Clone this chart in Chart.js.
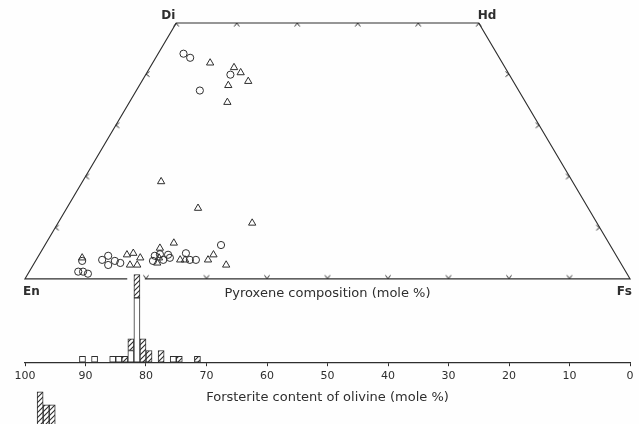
<!DOCTYPE html>
<html>
<head>
<meta charset="utf-8">
<script src="https://cdn.jsdelivr.net/npm/chart.js@4.4.0/dist/chart.umd.min.js"></script>
<style>
  html, body { margin: 0; padding: 0; background: #fefefe; overflow: hidden; }
  #chart { display: block; }
</style>
</head>
<body>
<canvas id="chart" width="639" height="424"></canvas>
<script>
var INK = '#2e2e2e';
var FONT = '"DejaVu Sans", "Liberation Sans", sans-serif';

// pyroxene analyses (mole %): circles
var CIRCLE_WO = [44.0, 43.2, 39.9, 36.8, 6.6, 3.5, 1.4, 1.4, 1.0, 3.7, 4.5, 2.7, 3.5, 3.1, 3.5, 4.5, 4.8, 3.7, 4.7, 4.1, 5.0, 3.7, 3.7];
var CIRCLE_FS = [4.2, 5.7, 14.0, 10.5, 29.1, 7.7, 8.1, 8.9, 9.9, 10.9, 11.5, 12.4, 13.1, 14.2, 19.4, 19.2, 19.9, 21.0, 21.3, 21.9, 24.1, 25.4, 26.4];

// pyroxene analyses (mole %): triangles
var TRIANGLE_WO = [42.2, 41.3, 40.3, 38.6, 37.8, 34.5, 19.0, 13.8, 10.9, 7.0, 4.1, 4.7, 5.0, 4.1, 2.7, 2.7, 6.0, 3.1, 4.1, 3.7, 3.7, 3.7, 4.7, 2.7];
var TRIANGLE_FS = [9.5, 13.9, 15.5, 17.6, 14.7, 16.2, 13.0, 21.7, 32.1, 21.1, 7.4, 14.5, 15.4, 17.0, 16.0, 17.2, 19.3, 20.3, 20.1, 23.8, 24.6, 28.4, 28.8, 31.9];

// olivine histogram: bin lower edge (Fo) and counts
var FO_BINS = [90, 88, 85, 84, 83, 82, 81, 80, 79, 77, 75, 74, 71];
var OPEN_COUNTS = [1, 1, 1, 1, 0, 2, 11, 0, 0, 0, 1, 0, 0];
var HATCHED_COUNTS = [0, 0, 0, 0, 1, 2, 4, 4, 2, 2, 0, 1, 1];

// top of the next histogram, cut off by the page edge
var NEXT_BINS = [97, 96, 95];
var NEXT_HEIGHTS = [45, 32, 32];

// quadrilateral tick marks
var TOP_TICKS_FS = [0, 10, 20, 30, 40, 50];
var SIDE_TICKS_WO = [10, 20, 30, 40];
var BASE_TICKS_FS = [20, 30, 40, 50, 60, 70, 80, 90];
var BASE_GAP = [16.9, 19.8];   // En-Fs line is broken where the tall bar crosses it

var CORNERS = [
  {name: 'En', wo: 0, fs: 0},
  {name: 'Di', wo: 50, fs: 0},
  {name: 'Hd', wo: 50, fs: 50},
  {name: 'Fs', wo: 0, fs: 100}
];

var BIN_WIDTH_PX = 6.05;   // one mole % on the 605px wide plot

function toQuad(wo, fs) {
  return {x: fs + wo / 2, y: wo};
}

function points(woList, fsList) {
  return woList.map(function (wo, i) { return toQuad(wo, fsList[i]); });
}

function bars(counts) {
  var out = [];
  FO_BINS.forEach(function (b, i) {
    if (counts[i] > 0) { out.push({x: b + 0.5, y: counts[i]}); }
  });
  return out;
}

function chevron() {
  var c = document.createElement('canvas');
  c.width = 12; c.height = 12;
  var ctx = c.getContext('2d');
  ctx.strokeStyle = INK;
  ctx.lineWidth = 1;
  ctx.beginPath();
  ctx.moveTo(3.5, 9.5);
  ctx.lineTo(6, 6);
  ctx.lineTo(8.5, 9.5);
  ctx.stroke();
  return c;
}

function hatch() {
  var c = document.createElement('canvas');
  c.width = 5; c.height = 5;
  var ctx = c.getContext('2d');
  ctx.fillStyle = '#ffffff';
  ctx.fillRect(0, 0, 5, 5);
  ctx.strokeStyle = INK;
  ctx.lineWidth = 1.1;
  ctx.beginPath();
  ctx.moveTo(0, 5); ctx.lineTo(5, 0);
  ctx.moveTo(-1, 1); ctx.lineTo(1, -1);
  ctx.moveTo(4, 6); ctx.lineTo(6, 4);
  ctx.stroke();
  return ctx.createPattern(c, 'repeat');
}

// tick marks sit on the edges, apex outward
var tickData = [], tickRotation = [];
TOP_TICKS_FS.forEach(function (fs) { tickData.push(toQuad(50, fs)); tickRotation.push(0); });
BASE_TICKS_FS.forEach(function (fs) { tickData.push(toQuad(0, fs)); tickRotation.push(180); });
SIDE_TICKS_WO.forEach(function (wo) { tickData.push(toQuad(wo, 0)); tickRotation.push(-90); });
SIDE_TICKS_WO.forEach(function (wo) { tickData.push(toQuad(wo, 100 - wo)); tickRotation.push(90); });

var outline = [
  {x: BASE_GAP[0], y: 0},
  toQuad(0, 0), toQuad(50, 0), toQuad(50, 50), toQuad(0, 100),
  {x: BASE_GAP[1], y: 0}
];

var labelsPlugin = {
  id: 'quadLabels',
  afterDatasetsDraw: function (chart) {
    var ctx = chart.ctx;
    var xp = chart.scales.xp, y = chart.scales.y;
    ctx.save();
    ctx.fillStyle = INK;
    ctx.font = 'bold 12px ' + FONT;
    ctx.textBaseline = 'alphabetic';
    CORNERS.forEach(function (c) {
      var p = toQuad(c.wo, c.fs);
      var px = xp.getPixelForValue(p.x), py = y.getPixelForValue(p.y);
      if (c.name === 'Di') { ctx.textAlign = 'right'; ctx.fillText(c.name, px - 1, py - 4); }
      if (c.name === 'Hd') { ctx.textAlign = 'left'; ctx.fillText(c.name, px - 1, py - 4); }
      if (c.name === 'En') { ctx.textAlign = 'left'; ctx.fillText(c.name, px - 2, py + 16); }
      if (c.name === 'Fs') { ctx.textAlign = 'right'; ctx.fillText(c.name, px + 2, py + 16); }
    });
    ctx.font = '13px ' + FONT;
    ctx.textAlign = 'center';
    ctx.textBaseline = 'middle';
    ctx.fillText('Pyroxene composition (mole %)', xp.getPixelForValue(50), y.getPixelForValue(0) + 15);
    ctx.restore();
  }
};

var barStyle = {
  type: 'bar', xAxisID: 'x', borderColor: INK, borderWidth: 1, borderSkipped: false,
  grouped: false, barThickness: BIN_WIDTH_PX, barPercentage: 1, categoryPercentage: 1, order: 0
};

new Chart(document.getElementById('chart'), {
  type: 'scatter',
  data: {
    datasets: [
      Object.assign({}, barStyle, {
        label: 'olivine open', data: bars(OPEN_COUNTS), yAxisID: 'yh', stack: 'ol',
        backgroundColor: '#ffffff'
      }),
      Object.assign({}, barStyle, {
        label: 'olivine hatched', data: bars(HATCHED_COUNTS), yAxisID: 'yh', stack: 'ol',
        backgroundColor: hatch()
      }),
      Object.assign({}, barStyle, {
        label: 'next panel', yAxisID: 'yn', clip: false, backgroundColor: hatch(),
        data: NEXT_BINS.map(function (b, i) { return {x: b + 0.5, y: [0, NEXT_HEIGHTS[i]]}; })
      }),
      {
        label: 'outline', data: outline, xAxisID: 'xp', yAxisID: 'y', order: 3,
        showLine: true, pointRadius: 0, borderColor: INK, borderWidth: 1.2, clip: false
      },
      {
        label: 'ticks', data: tickData, xAxisID: 'xp', yAxisID: 'y', order: 2,
        pointStyle: chevron(), rotation: tickRotation, pointRadius: 3, clip: false
      },
      {
        label: 'circles', data: points(CIRCLE_WO, CIRCLE_FS), xAxisID: 'xp', yAxisID: 'y', order: 1,
        pointStyle: 'circle', pointRadius: 3.6, borderWidth: 1,
        borderColor: INK, backgroundColor: 'rgba(0,0,0,0)'
      },
      {
        label: 'triangles', data: points(TRIANGLE_WO, TRIANGLE_FS), xAxisID: 'xp', yAxisID: 'y', order: 1,
        pointStyle: 'triangle', pointRadius: 4.2, borderWidth: 1,
        borderColor: INK, backgroundColor: 'rgba(0,0,0,0)'
      }
    ]
  },
  options: {
    responsive: false,
    animation: false,
    layout: { padding: { left: 25, right: 9, top: 23, bottom: 19 } },
    plugins: { legend: { display: false }, tooltip: { enabled: false } },
    scales: {
      x: {
        type: 'linear', axis: 'x', position: 'bottom', reverse: true, min: 0, max: 100,
        offset: false,
        ticks: { stepSize: 10, color: INK, padding: 3, maxRotation: 0, font: { family: FONT, size: 11 } },
        grid: { offset: false, drawOnChartArea: false, drawTicks: true, tickLength: 4, color: INK },
        border: { display: true, color: INK, width: 1.2 },
        title: {
          display: true, text: 'Forsterite content of olivine (mole %)', color: INK,
          font: { family: FONT, size: 13 }, padding: { top: 4, bottom: 0 }
        }
      },
      xp: { type: 'linear', axis: 'x', display: false, min: 0, max: 100 },
      y: { type: 'linear', axis: 'y', display: false, min: -16.3, max: 50 },
      yh: { type: 'linear', axis: 'y', display: false, min: 0, max: 58, stacked: true },
      // the next panel's baseline lies 75px under this plot
      yn: { type: 'linear', axis: 'y', display: false, min: 75, max: 417 }
    }
  },
  plugins: [labelsPlugin]
});
</script>
</body>
</html>
